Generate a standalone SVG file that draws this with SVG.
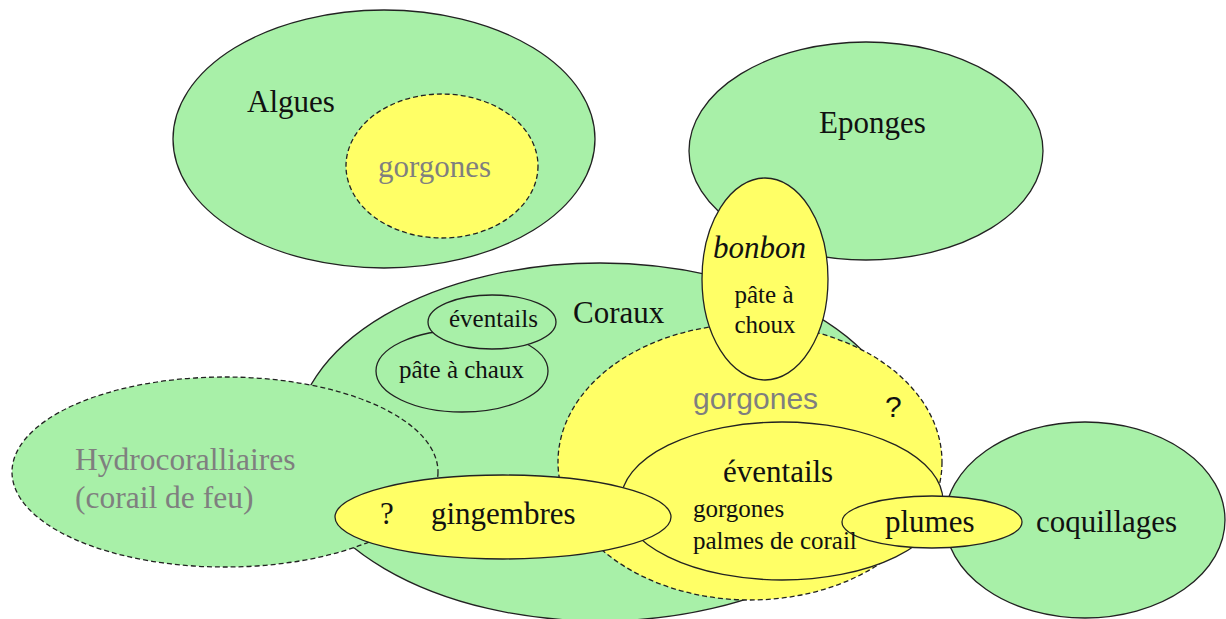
<svg xmlns="http://www.w3.org/2000/svg" width="1226" height="619" viewBox="0 0 1226 619">
<style>
.g{fill:#a8f0a8;stroke:#222;stroke-width:1.3}
.y{fill:#ffff66;stroke:#222;stroke-width:1.3}
.d{stroke-dasharray:5 3}
text{font-family:"Liberation Serif","Times New Roman",serif;fill:#111}
.L{font-size:31px}
.M{font-size:25px}
.gray{fill:#7f7f7f}
.sans{font-family:"Liberation Sans",Arial,sans-serif}
</style>
<rect width="1226" height="619" fill="#fff"/>
<g id="algues">
<ellipse class="g" cx="384" cy="139" rx="211" ry="129"/>
<text class="L" x="247" y="112">Algues</text>
</g>
<g id="algues-gorgones">
<ellipse class="y d" cx="442" cy="166" rx="96" ry="72"/>
<text class="L gray" x="378" y="177">gorgones</text>
</g>
<g id="eponges">
<ellipse class="g" cx="866" cy="151" rx="177" ry="109"/>
<text class="L" x="819" y="133">Eponges</text>
</g>
<g id="coraux">
<ellipse class="g" cx="600" cy="442" rx="305" ry="179"/>
<text class="L" x="573" y="323">Coraux</text>
</g>
<g id="pate-a-chaux">
<ellipse class="g" cx="462" cy="371" rx="86" ry="41"/>
<text class="M" x="399" y="378">pâte à chaux</text>
</g>
<g id="eventails-coraux">
<ellipse class="g" cx="492" cy="322" rx="64" ry="27"/>
<text class="M" x="449" y="327">éventails</text>
</g>
<g id="hydrocoralliaires">
<ellipse class="g d" cx="225" cy="472" rx="213" ry="95"/>
<text class="gray" style="font-size:31.5px" x="75" y="470">Hydrocoralliaires</text>
<text class="gray" style="font-size:31.5px" x="75" y="508">(corail de feu)</text>
</g>
<g id="gorgones">
<ellipse class="y d" cx="750" cy="462" rx="192" ry="138"/>
<text class="sans gray" style="font-size:30px" x="693" y="409">gorgones</text>
<text class="sans" style="font-size:30px" x="885" y="417">?</text>
</g>
<g id="eventails">
<ellipse class="y" cx="782" cy="501" rx="161" ry="79"/>
</g>
<g id="gingembres">
<ellipse class="y" cx="503" cy="517" rx="168" ry="42"/>
<text class="L" x="380" y="524">?</text>
<text class="L" x="431" y="524">gingembres</text>
</g>
<g id="coquillages">
<ellipse class="g" cx="1085" cy="520" rx="140" ry="98"/>
<text class="L" x="1036" y="532">coquillages</text>
</g>
<g id="plumes">
<ellipse class="y" cx="932" cy="522" rx="90" ry="26"/>
<text class="L" x="885" y="532">plumes</text>
</g>
<g id="eventails-labels">
<text class="L" x="723" y="482">éventails</text>
<text class="M" x="693" y="517">gorgones</text>
<text class="M" x="693" y="549">palmes de corail</text>
</g>
<g id="bonbon">
<ellipse class="y" cx="765" cy="279" rx="63" ry="101"/>
<text class="L" style="font-style:italic" x="713" y="258">bonbon</text>
<text class="M" x="764" y="303" text-anchor="middle">pâte à</text>
<text class="M" x="765" y="333" text-anchor="middle">choux</text>
</g>
<g id="connectors"></g>
</svg>
